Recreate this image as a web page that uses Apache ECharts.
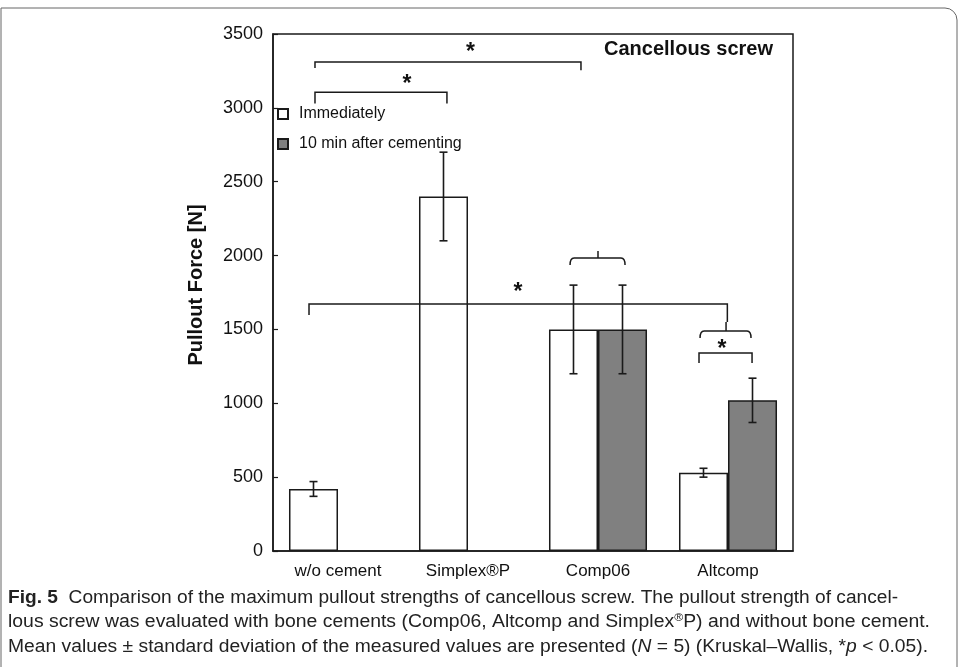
<!DOCTYPE html>
<html><head><meta charset="utf-8">
<script src="https://cdn.jsdelivr.net/npm/echarts@6/dist/echarts.min.js"></script>
<style>html,body{margin:0;padding:0;background:#fff;}#c{width:958px;height:667px;}</style>
</head><body><div id="c"></div>
<script>
// ---- data ----
const categories = ['w/o cement', 'Simplex®P', 'Comp06', 'Altcomp'];
const seriesNames = ['Immediately', '10 min after cementing'];
const immediateMean = [420, 2400, 1500, 530];
const immediateSD = [50, 300, 300, 30];
const after10Mean = [null, null, 1500, 1020];
const after10SD = [null, null, 300, 150];
const yMin = 0, yMax = 3500, yInterval = 500;
// significance brackets: [xStart, xEnd (category units), yLine, yStartEnd, yEndEnd]
const brackets = [
  [-0.177, 1.869, 3310, 3270, 3255],
  [-0.177, 0.838, 3105, 3030, 3030],
  [-0.223, 2.995, 1672, 1598, 1550],
  [2.777, 3.185, 1340, 1273, 1273]
];
// braces: [xStart, xEnd, xStem, yLine, yEnds, yStemTop]
const braces = [
  [1.785, 2.208, 2.0, 1984, 1936, 2031],
  [2.785, 3.177, 2.985, 1489, 1442, 1550]
];
// significance stars: [x (category units), y]
const stars = [
  [1.02, 3405],
  [0.53, 3189],
  [1.385, 1780],
  [2.954, 1395]
];
const captionLines = [
  [['b', 'Fig. 5'], ['n', '  Comparison of the maximum pullout strengths of cancellous screw. The pullout strength of cancel-']],
  [['n', 'lous screw was evaluated with bone cements (Comp06, Altcomp and Simplex'], ['sup', '®'], ['n', 'P) and without bone cement.']],
  [['n', 'Mean values ± standard deviation of the measured values are presented ('], ['i', 'N'], ['n', ' = 5) (Kruskal–Wallis, *'], ['i', 'p'], ['n', ' < 0.05).']]
];
const captionRight = [898, 930, 928];

// ---- chart ----
const FONT = 'Liberation Sans, Arial, sans-serif';
const CAPFONT = '"Liberation Sans Narrow", "Liberation Sans", Arial, sans-serif';
const CATGAP = 0.246;
const chart = echarts.init(document.getElementById('c'));

function toPx(api, xc, v) {
  const band = api.size([1, 0])[0];
  const p = api.coord([0, v]);
  return [p[0] + xc * band, p[1]];
}
function errRender(meanArr, sdArr, side) {
  return function (params, api) {
    const i = params.dataIndex;
    const m = meanArr[i], s = sdArr[i];
    if (m == null) return null;
    const band = api.size([1, 0])[0];
    const off = side * band * (1 - CATGAP) / 4;
    const t = api.coord([i, m + s]), b = api.coord([i, m - s]);
    const x = t[0] + off;
    const st = { stroke: '#1a1a1a', lineWidth: 1.6 };
    return { type: 'group', children: [
      { type: 'line', shape: { x1: x, y1: t[1], x2: x, y2: b[1] }, style: st },
      { type: 'line', shape: { x1: x - 4, y1: t[1], x2: x + 4, y2: t[1] }, style: st },
      { type: 'line', shape: { x1: x - 4, y1: b[1], x2: x + 4, y2: b[1] }, style: st }
    ] };
  };
}

// caption rich text + width fit
const cv = document.createElement('canvas').getContext('2d');
const capSize = 17.5;
const capFonts = {
  b: 'bold ' + capSize + 'px ' + CAPFONT,
  n: capSize + 'px ' + CAPFONT,
  i: 'italic ' + capSize + 'px ' + CAPFONT,
  sup: '11px ' + CAPFONT
};
const captionGraphics = captionLines.map((line, li) => {
  let w = 0, txt = '';
  line.forEach(([k, s]) => { cv.font = capFonts[k]; w += cv.measureText(s).width; txt += '{' + k + '|' + s.replace(/[{}|]/g, '') + '}'; });
  const sx = (captionRight[li] - 8) / w;
  return {
    type: 'text', x: 8, y: 598 + li * 24.5, scaleX: sx, silent: true,
    style: {
      text: txt, fill: '#222', verticalAlign: 'middle', align: 'left',
      rich: {
        b: { fontFamily: CAPFONT, fontSize: capSize, fontWeight: 'bold', color: '#111' },
        n: { fontFamily: CAPFONT, fontSize: capSize, color: '#222' },
        i: { fontFamily: CAPFONT, fontSize: capSize, fontStyle: 'italic', color: '#222' },
        sup: { fontFamily: CAPFONT, fontSize: 11, color: '#222', padding: [0, 0, 9, 0] }
      }
    }
  };
});

const option = {
  animation: false,
  backgroundColor: '#fff',
  title: {
    text: 'Cancellous screw', right: 180, top: 34,
    textStyle: { fontFamily: FONT, fontSize: 20, fontWeight: 'bold', color: '#111' }
  },
  legend: {
    data: seriesNames, orient: 'vertical', left: 277, top: 106, padding: 0,
    itemWidth: 10, itemHeight: 10, itemGap: 14, icon: 'rect',
    textStyle: { fontFamily: FONT, fontSize: 16, color: '#111', padding: [0, 0, 0, 6] }
  },
  grid: { left: 273, top: 34, right: 165, bottom: 116, show: true, borderColor: '#1a1a1a', borderWidth: 1.5, containLabel: false },
  xAxis: {
    type: 'category', data: categories,
    axisLine: { lineStyle: { color: '#1a1a1a', width: 1.5 } },
    axisTick: { show: false },
    axisLabel: { fontFamily: FONT, fontSize: 17, color: '#111', margin: 12 }
  },
  yAxis: {
    type: 'value', min: yMin, max: yMax, interval: yInterval,
    axisLine: { show: true, lineStyle: { color: '#1a1a1a', width: 1.5 } },
    axisTick: { show: true, inside: true, length: 5, lineStyle: { color: '#1a1a1a', width: 1.2 } },
    splitLine: { show: false },
    axisLabel: { fontFamily: FONT, fontSize: 18, color: '#111', margin: 10, formatter: v => String(v) }
  },
  series: [
    { name: seriesNames[0], type: 'bar', data: immediateMean, barGap: '0%', barCategoryGap: (CATGAP * 100) + '%',
      itemStyle: { color: '#ffffff', borderColor: '#1a1a1a', borderWidth: 1.5 }, z: 2 },
    { name: seriesNames[1], type: 'bar', data: after10Mean, barGap: '0%', barCategoryGap: (CATGAP * 100) + '%',
      itemStyle: { color: '#808080', borderColor: '#1a1a1a', borderWidth: 1.5 }, z: 2 },
    { type: 'custom', renderItem: errRender(immediateMean, immediateSD, -1),
      data: immediateMean.map((m, i) => [i, m]), z: 5, silent: true },
    { type: 'custom', renderItem: errRender(after10Mean, after10SD, 1),
      data: after10Mean.map((m, i) => [i, m == null ? 0 : m]), z: 5, silent: true },
    { type: 'custom', z: 6, silent: true, clip: false,
      data: brackets.map(b => [0, b[2]]),
      renderItem: (params, api) => {
        const b = brackets[params.dataIndex];
        const p1 = toPx(api, b[0], b[3]), p2 = toPx(api, b[0], b[2]), p3 = toPx(api, b[1], b[2]), p4 = toPx(api, b[1], b[4]);
        return { type: 'polyline', shape: { points: [p1, p2, p3, p4] }, style: { stroke: '#1a1a1a', lineWidth: 1.5, fill: null } };
      } },
    { type: 'custom', z: 6, silent: true, clip: false,
      data: braces.map(b => [0, b[3]]),
      renderItem: (params, api) => {
        const b = braces[params.dataIndex];
        const a = toPx(api, b[0], b[4]), l = toPx(api, b[0], b[3]), r = toPx(api, b[1], b[3]), e = toPx(api, b[1], b[4]);
        const m = toPx(api, b[2], b[3]), s = toPx(api, b[2], b[5]);
        const rr = 4;
        const d = 'M' + a[0] + ' ' + a[1] + ' Q' + l[0] + ' ' + l[1] + ' ' + (l[0] + rr) + ' ' + l[1] +
          ' L' + (r[0] - rr) + ' ' + r[1] + ' Q' + r[0] + ' ' + r[1] + ' ' + e[0] + ' ' + e[1] +
          ' M' + m[0] + ' ' + m[1] + ' L' + s[0] + ' ' + s[1];
        return { type: 'path', shape: { pathData: d }, style: { stroke: '#1a1a1a', lineWidth: 1.5, fill: null } };
      } },
    { type: 'custom', z: 6, silent: true, clip: false,
      data: stars.map(s => [0, s[1]]),
      renderItem: (params, api) => {
        const s = stars[params.dataIndex];
        const p = toPx(api, s[0], s[1]);
        return { type: 'text', x: p[0], y: p[1] + 5,
          style: { text: '*', fontFamily: FONT, fontSize: 23, fontWeight: 'bold', fill: '#111', align: 'center', verticalAlign: 'middle' } };
      } }
  ],
  graphic: [
    { type: 'rect', silent: true, shape: { x: 1, y: 8, width: 956, height: 700, r: [0, 12, 0, 0] },
      style: { fill: null, stroke: '#666', lineWidth: 1 } },
    { type: 'text', silent: true, x: 196, y: 285, rotation: Math.PI / 2,
      style: { text: 'Pullout Force [N]', fontFamily: FONT, fontSize: 20, fontWeight: 'bold', fill: '#111', align: 'center', verticalAlign: 'middle' } }
  ].concat(captionGraphics)
};
chart.setOption(option);
</script>
</body></html>
